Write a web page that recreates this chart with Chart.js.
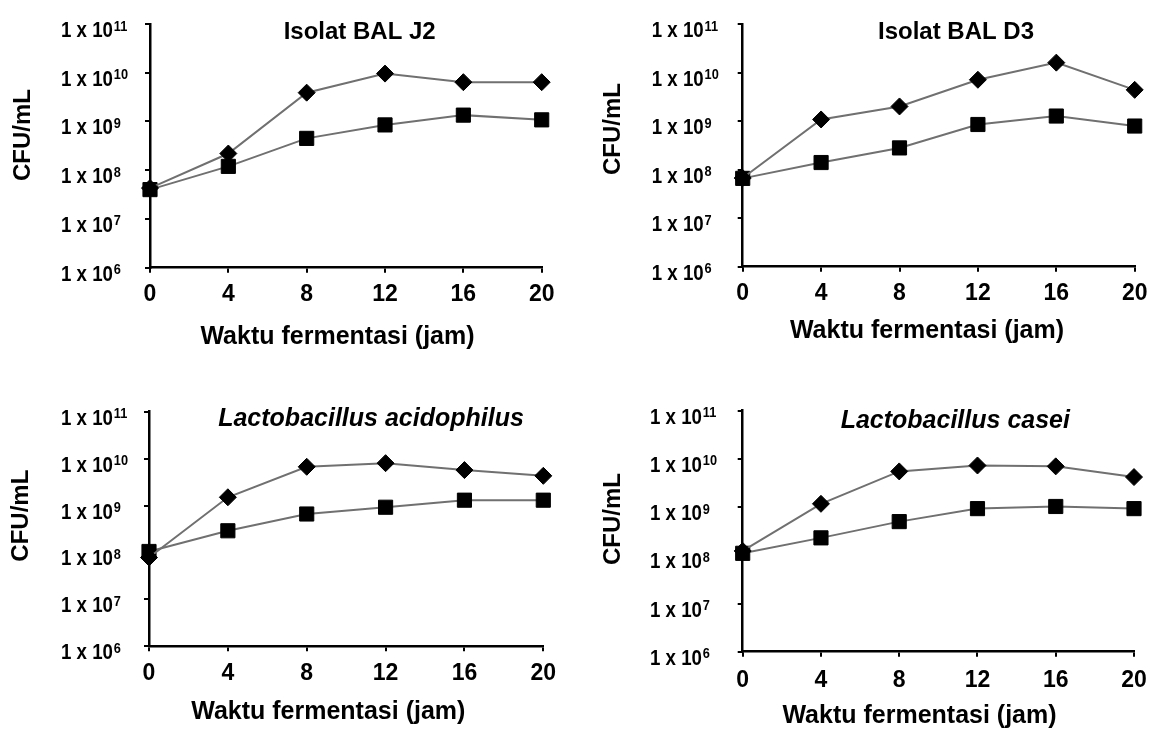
<!DOCTYPE html>
<html>
<head>
<meta charset="utf-8">
<script src="https://cdn.jsdelivr.net/npm/chart.js@4.4.1/dist/chart.umd.min.js"></script>
<style>
  html, body { margin: 0; padding: 0; background: #fff; }
  #wrap { position: relative; width: 1157px; height: 729px; overflow: hidden; }
  canvas { position: absolute; }
</style>
</head>
<body>
<div id="wrap">
  <canvas id="c1" width="578" height="362" style="left:0;top:0"></canvas>
  <canvas id="c2" width="579" height="362" style="left:578px;top:0"></canvas>
  <canvas id="c3" width="578" height="367" style="left:0;top:362px"></canvas>
  <canvas id="c4" width="579" height="367" style="left:578px;top:362px"></canvas>
</div>
<script>
// waktu fermentasi (jam)
const hours = ['0', '4', '8', '12', '16', '20'];
// sumbu Y (log): nilai tick, teks dasar dan pangkat
const yTicks = [1e6, 1e7, 1e8, 1e9, 1e10, 1e11];
const yTickLabels = ['1 x 10', '1 x 10', '1 x 10', '1 x 10', '1 x 10', '1 x 10'];
const yTickExps = ['6', '7', '8', '9', '10', '11'];

// Isolat BAL J2
const j2Diamond = [4.3e7, 2.2e8, 3.9e9, 9.6e9, 6.4e9, 6.4e9];
const j2Square = [4.0e7, 1.2e8, 4.5e8, 8.5e8, 1.35e9, 1.08e9];
// Isolat BAL D3
const d3Diamond = [6.7e7, 1.08e9, 2.0e9, 7.1e9, 1.6e10, 4.4e9];
const d3Square = [6.6e7, 1.4e8, 2.8e8, 8.5e8, 1.27e9, 7.9e8];
// Lactobacillus acidophilus
const acDiamond = [7.8e7, 1.5e9, 6.7e9, 8.0e9, 5.7e9, 4.3e9];
const acSquare = [1.05e8, 2.9e8, 6.6e8, 9.2e8, 1.3e9, 1.3e9];
// Lactobacillus casei
const caDiamond = [1.23e8, 1.17e9, 5.5e9, 7.3e9, 7.0e9, 4.2e9];
const caSquare = [1.1e8, 2.3e8, 5.0e8, 9.3e8, 1.03e9, 9.3e8];

const FONT = '"Liberation Sans", Arial, sans-serif';

// teks panel: judul, judul sumbu, label tick Y dengan pangkat
const panelText = {
    id: 'panelText',
    afterDraw(chart, args, o) {
        const ctx = chart.ctx;
        const ys = chart.scales.y;
        ctx.save();
        ctx.fillStyle = '#000';

        yTicks.forEach((v, i) => {
            const py = ys.getPixelForValue(v);
            ctx.save();
            ctx.translate(o.labelX, py);
            ctx.scale(0.85, 1);
            ctx.textAlign = 'left';
            ctx.textBaseline = 'alphabetic';
            ctx.font = 'bold 22px ' + FONT;
            ctx.fillText(yTickLabels[i], 0, 13);
            const w = ctx.measureText(yTickLabels[i]).width;
            ctx.font = 'bold 15px ' + FONT;
            ctx.fillText(yTickExps[i], w + 1, 6.5);
            ctx.restore();
        });

        ctx.textAlign = 'center';
        ctx.textBaseline = 'middle';
        ctx.font = (o.italic ? 'italic bold 25px ' : 'bold 24px ') + FONT;
        ctx.fillText(o.title, o.tx, o.ty);

        ctx.font = 'bold 25px ' + FONT;
        ctx.fillText('Waktu fermentasi (jam)', o.xx, o.xy);

        ctx.translate(o.yx, o.yy);
        ctx.rotate(-Math.PI / 2);
        ctx.font = 'bold 24px ' + FONT;
        ctx.fillText('CFU/mL', 0, 0);
        ctx.restore();
    }
};

function makePanel(id, title, italic, diamonds, squares, g) {
    return new Chart(document.getElementById(id), {
        type: 'line',
        data: {
            labels: hours,
            datasets: [{
                data: diamonds,
                borderColor: '#707070',
                borderWidth: 2,
                pointStyle: 'rectRot',
                pointRadius: 8.5,
                pointBackgroundColor: '#000',
                pointBorderColor: '#000',
                pointBorderWidth: 1
            }, {
                data: squares,
                borderColor: '#707070',
                borderWidth: 2,
                pointStyle: 'rect',
                pointRadius: 10,
                pointBackgroundColor: '#000',
                pointBorderColor: '#000',
                pointBorderWidth: 1
            }]
        },
        options: {
            responsive: false,
            animation: false,
            layout: { padding: { left: 0, top: g.top, right: g.right, bottom: 0 } },
            plugins: {
                legend: { display: false },
                tooltip: { enabled: false },
                panelText: {
                    title: title, italic: italic,
                    tx: g.tx, ty: g.ty, xx: g.xx, xy: g.xy, yx: g.yx, yy: g.yy, labelX: g.labelX
                }
            },
            scales: {
                x: {
                    type: 'category',
                    offset: false,
                    border: { display: true, color: '#000', width: 2.5 },
                    grid: { display: true, drawOnChartArea: false, drawTicks: true, tickLength: 5, color: '#000', lineWidth: 2 },
                    ticks: { color: '#000', padding: g.xpad, maxRotation: 0, autoSkip: false, font: { family: FONT, size: 23, weight: 'bold' } },
                    afterFit(scale) { scale.height = g.xh; }
                },
                y: {
                    type: 'logarithmic',
                    min: 1e6,
                    max: 1e11,
                    border: { display: true, color: '#000', width: 2.5 },
                    grid: { display: true, drawOnChartArea: false, drawTicks: true, tickLength: 5, color: '#000', lineWidth: 2 },
                    ticks: { display: false },
                    afterBuildTicks(scale) { scale.ticks = yTicks.map(v => ({ value: v })); },
                    afterFit(scale) { scale.width = g.yw; }
                }
            }
        },
        plugins: [panelText]
    });
}

makePanel('c1', 'Isolat BAL J2', false, j2Diamond, j2Square,
    { top: 24, right: 36.3, yw: 150, xh: 94.3, xpad: 8.5,
      labelX: 61, tx: 359.7, ty: 32, xx: 337.5, xy: 337, yx: 23.3, yy: 135 });
makePanel('c2', 'Isolat BAL D3', false, d3Diamond, d3Square,
    { top: 24, right: 22.3, yw: 164.7, xh: 95.3, xpad: 7.8,
      labelX: 73.7, tx: 378, ty: 32.3, xx: 349, xy: 331, yx: 35.3, yy: 129 });
makePanel('c3', 'Lactobacillus acidophilus', true, acDiamond, acSquare,
    { top: 49.7, right: 34.7, yw: 149, xh: 82.7, xpad: 8.9,
      labelX: 61, tx: 371, ty: 57, xx: 328.3, xy: 350.3, yx: 21.7, yy: 153.7 });
makePanel('c4', 'Lactobacillus casei', true, caDiamond, caSquare,
    { top: 48.7, right: 22.3, yw: 164.7, xh: 77.3, xpad: 10.2,
      labelX: 72, tx: 377.3, ty: 58.7, xx: 341.5, xy: 353.7, yx: 35.3, yy: 157 });
</script>
</body>
</html>
